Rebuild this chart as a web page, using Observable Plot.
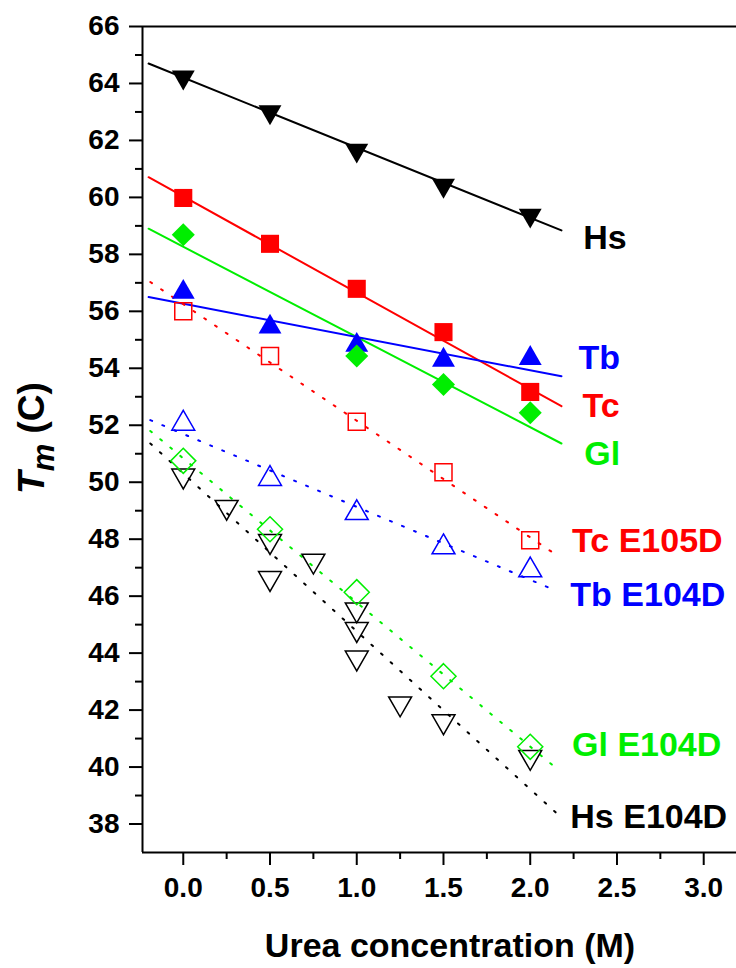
<!DOCTYPE html>
<html>
<head>
<meta charset="utf-8">
<script src="https://cdn.jsdelivr.net/npm/d3@7"></script>
<script src="https://cdn.jsdelivr.net/npm/@observablehq/plot@0.6"></script>
<style>
  html, body { margin: 0; padding: 0; background: white; }
  #chart svg { display: block; }
</style>
</head>
<body>
<div id="chart"></div>
<script>
// ---- data ----
const urea = [0, 0.5, 1.0, 1.5, 2.0];
const hsTm = [64.22, 63.0, 61.65, 60.42, 59.37];
const tcTm = [59.98, 58.37, 56.79, 55.27, 53.17];
const glUrea = [0, 1.0, 1.5, 2.0];
const glTm = [58.69, 54.43, 53.43, 52.44];
const tbTm = [56.67, 55.45, 54.81, 54.29, 54.35];
const tcE105DTm = [56.0, 54.43, 52.12, 50.35, 47.96];
const tbE104DTm = [52.06, 50.12, 48.92, 47.72, 46.91];
const glE104DTm = [50.75, 48.35, 46.14, 43.19, 40.71];
const hsE104DUrea = [0, 0.25, 0.5, 0.5, 0.75, 1.0, 1.0, 1.0, 1.25, 1.5, 2.0];
const hsE104DTm = [50.23, 49.13, 47.93, 46.63, 47.24, 45.53, 44.84, 43.84, 42.23, 41.6, 40.35];

// fitted lines (end points)
const solidFitUrea = [-0.2, 2.18];
const dottedFitUrea = [-0.19, 2.15];
const hsFit = [64.70, 58.84];
const tcFit = [60.71, 52.67];
const glFit = [58.90, 51.36];
const tbFit = [56.50, 53.72];
const tcE105DFit = [57.03, 47.45];
const tbE104DFit = [52.18, 46.19];
const glE104DFit = [51.80, 39.96];
const hsE104DFit = [51.36, 38.39];

// series labels
const labelText = ["Hs", "Tb", "Tc", "Gl", "Tc E105D", "Tb E104D", "Gl E104D", "Hs E104D"];
const labelUrea = [2.305, 2.278, 2.301, 2.312, 2.241, 2.231, 2.241, 2.231];
const labelTm = [58.58, 54.35, 52.67, 50.98, 47.93, 46.04, 40.77, 38.26];

const yMajorTicks = [38, 40, 42, 44, 46, 48, 50, 52, 54, 56, 58, 60, 62, 64, 66];
const yMinorTicks = [39, 41, 43, 45, 47, 49, 51, 53, 55, 57, 59, 61, 63, 65];
const xMajorTicks = [0, 0.5, 1.0, 1.5, 2.0, 2.5, 3.0];
const xMinorTicks = [-0.25, 0.25, 0.75, 1.25, 1.75, 2.25, 2.75];

// ---- colours ----
const BLACK = "#000000", RED = "#ff0000", GREEN = "#00ee00", BLUE = "#0000ff";
const labelColor = [BLACK, BLUE, RED, GREEN, RED, BLUE, GREEN, BLACK];

// ---- symbols ----
const triUp = {draw(c, size) {
  const s = Math.sqrt(size * 4 / Math.sqrt(3)), h = s * Math.sqrt(3) / 2;
  c.moveTo(0, -2 * h / 3); c.lineTo(s / 2, h / 3); c.lineTo(-s / 2, h / 3); c.closePath();
}};
const triDown = {draw(c, size) {
  const s = Math.sqrt(size * 4 / Math.sqrt(3)), h = s * Math.sqrt(3) / 2;
  c.moveTo(-s / 2, -h / 3); c.lineTo(s / 2, -h / 3); c.lineTo(0, 2 * h / 3); c.closePath();
}};
const squareSym = {draw(c, size) {
  const a = Math.sqrt(size) / 2;
  c.moveTo(-a, -a); c.lineTo(a, -a); c.lineTo(a, a); c.lineTo(-a, a); c.closePath();
}};
const diamondSym = {draw(c, size) {
  const d = Math.sqrt(size / 2);
  c.moveTo(0, -d); c.lineTo(d, 0); c.lineTo(0, d); c.lineTo(-d, 0); c.closePath();
}};

const pts = (xs, ys) => xs.map((x, i) => ({x, y: ys[i]}));
const fit = (xs, ys) => xs.map((x, i) => ({x, y: ys[i]}));
const labels = labelText.map((t, i) => ({t, x: labelUrea[i], y: labelTm[i], c: labelColor[i]}));

const X0 = -0.235, X1 = 3.189, Y0 = 37, Y1 = 66;
const dotted = {strokeWidth: 2, strokeDasharray: "2,11"};

const chart = Plot.plot({
  width: 736,
  height: 968,
  marginTop: 26,
  marginBottom: 116,
  marginLeft: 142,
  marginRight: 0,
  x: {domain: [X0, X1]},
  y: {domain: [Y0, Y1]},
  style: {fontFamily: "'Liberation Sans', Arial, sans-serif", fontWeight: "bold", background: "white", color: "black", overflow: "visible"},
  marks: [
    // frame lines
    Plot.ruleY([Y1], {stroke: "black", strokeWidth: 2}),
    Plot.ruleY([Y0], {stroke: "black", strokeWidth: 2}),
    Plot.ruleX([X0], {stroke: "black", strokeWidth: 2}),
    // axes
    Plot.axisY(yMajorTicks, {tickSize: 13, tickPadding: 10, fontSize: 28, fontWeight: "bold", strokeWidth: 2, label: null}),
    Plot.axisY(yMinorTicks, {tickSize: 7, tickFormat: () => "", strokeWidth: 2, label: null}),
    Plot.axisX(xMajorTicks, {tickSize: 13, tickPadding: 12, fontSize: 28, fontWeight: "bold", strokeWidth: 2, tickFormat: d3.format(".1f"), label: null}),
    Plot.axisX(xMinorTicks.filter(v => v > X0), {tickSize: 7, tickFormat: () => "", strokeWidth: 2, label: null}),
    // fit lines
    Plot.line(fit(solidFitUrea, hsFit), {x: "x", y: "y", stroke: BLACK, strokeWidth: 2}),
    Plot.line(fit(solidFitUrea, tcFit), {x: "x", y: "y", stroke: RED, strokeWidth: 2}),
    Plot.line(fit(solidFitUrea, glFit), {x: "x", y: "y", stroke: GREEN, strokeWidth: 2}),
    Plot.line(fit(solidFitUrea, tbFit), {x: "x", y: "y", stroke: BLUE, strokeWidth: 2}),
    Plot.line(fit(dottedFitUrea, tcE105DFit), {x: "x", y: "y", stroke: RED, ...dotted}),
    Plot.line(fit(dottedFitUrea, tbE104DFit), {x: "x", y: "y", stroke: BLUE, ...dotted}),
    Plot.line(fit(dottedFitUrea, glE104DFit), {x: "x", y: "y", stroke: GREEN, ...dotted}),
    Plot.line(fit(dottedFitUrea, hsE104DFit), {x: "x", y: "y", stroke: BLACK, ...dotted}),
    // open markers
    Plot.dot(pts(hsE104DUrea, hsE104DTm), {x: "x", y: "y", symbol: triDown, r: 8.5, fill: "none", stroke: BLACK, strokeWidth: 1.5}),
    Plot.dot(pts(urea, glE104DTm), {x: "x", y: "y", symbol: diamondSym, r: 10, fill: "none", stroke: GREEN, strokeWidth: 1.5}),
    Plot.dot(pts(urea, tbE104DTm), {x: "x", y: "y", symbol: triUp, r: 8.5, fill: "none", stroke: BLUE, strokeWidth: 1.5}),
    Plot.dot(pts(urea, tcE105DTm), {x: "x", y: "y", symbol: squareSym, r: 9.6, fill: "none", stroke: RED, strokeWidth: 1.5}),
    // filled markers
    Plot.dot(pts(urea, tbTm), {x: "x", y: "y", symbol: triUp, r: 8.5, fill: BLUE, stroke: "none"}),
    Plot.dot(pts(glUrea, glTm), {x: "x", y: "y", symbol: diamondSym, r: 9.2, fill: GREEN, stroke: "none"}),
    Plot.dot(pts(urea, tcTm), {x: "x", y: "y", symbol: squareSym, r: 10.2, fill: RED, stroke: "none"}),
    Plot.dot(pts(urea, hsTm), {x: "x", y: "y", symbol: triDown, r: 8.5, fill: BLACK, stroke: "none"}),
    // series labels
    Plot.text(labels, {x: "x", y: "y", text: "t", fill: "c", textAnchor: "start", fontSize: 34, fontWeight: "bold"})
  ]
});

const svg = d3.select(chart);
// x axis title
svg.append("text")
  .attr("x", 450).attr("y", 956.5)
  .attr("text-anchor", "middle")
  .attr("font-size", 34).attr("font-weight", "bold")
  .attr("fill", "black")
  .text("Urea concentration (M)");
// y axis title: T_m (C)
const yt = svg.append("text")
  .attr("transform", "translate(44,438) rotate(-90)")
  .attr("text-anchor", "middle")
  .attr("font-size", 37).attr("font-weight", "bold")
  .attr("fill", "black");
yt.append("tspan").attr("font-style", "italic").text("T");
yt.append("tspan").attr("font-style", "italic").attr("font-size", 31).attr("dy", 10).text("m");
yt.append("tspan").attr("dy", -10).text(" (C)");

document.getElementById("chart").appendChild(chart);
</script>
</body>
</html>
